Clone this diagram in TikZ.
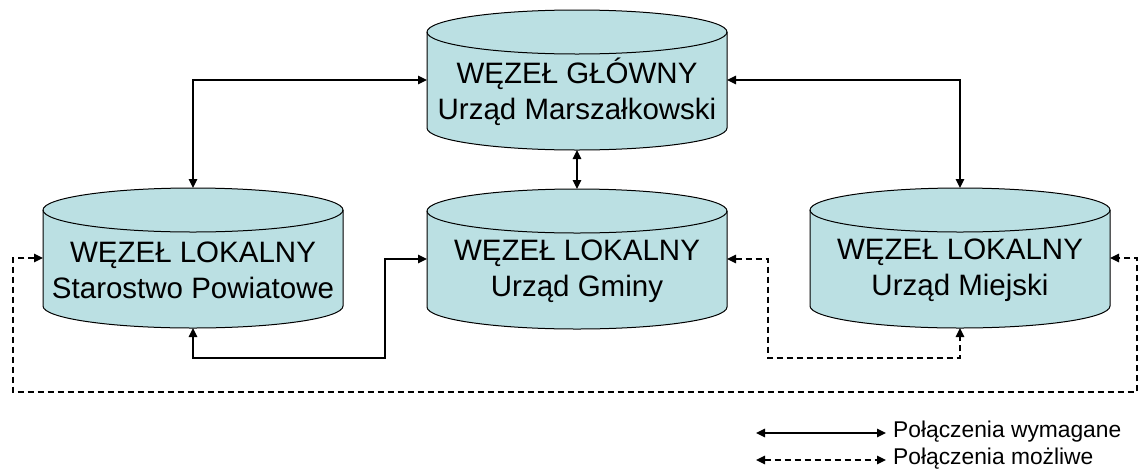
\documentclass[tikz,border=0pt]{standalone}
\usepackage{fontspec}
\setmainfont{Liberation Sans}
\usetikzlibrary{arrows.meta,backgrounds}
\definecolor{cylfill}{HTML}{BBE0E3}
\tikzset{
  cylbox/.style={minimum width=300pt,minimum height=140pt,inner sep=0pt,outer sep=0pt},
  cyltext/.style={align=center,font=\fontsize{29.5}{36}\selectfont,inner sep=0pt},
  conn/.style={line width=1.4pt,{Triangle[length=9pt,width=8.5pt]}-{Triangle[length=9pt,width=8.5pt]}},
  dconn/.style={conn,dash pattern=on 6pt off 4pt},
  legtext/.style={font=\fontsize{22.8}{26}\selectfont,anchor=west,inner sep=0pt},
}
\begin{document}
\begin{tikzpicture}[x=1pt,y=1pt]
\useasboundingbox (0,0) rectangle (1140,-472);
% cylinder frames
\node[cylbox] (main) at (577,-80) {};
\node[cylbox] (lft) at (193,-258) {};
\node[cylbox] (mid) at (577,-259) {};
\node[cylbox] (rgt) at (960,-258) {};
\begin{scope}[on background layer]
\foreach \n in {main,lft,mid,rgt}{
  \filldraw[fill=cylfill,draw=black,line width=1pt]
    ([yshift=-22pt]\n.north west) -- ([yshift=22pt]\n.south west)
    arc[start angle=180,end angle=360,x radius=150,y radius=22]
    -- ([yshift=-22pt]\n.north east)
    arc[start angle=0,end angle=180,x radius=150,y radius=22] -- cycle;
  \draw[line width=1pt] ([yshift=-22pt]\n.north west)
    arc[start angle=180,end angle=360,x radius=150,y radius=22];
}
\end{scope}
% texts
\node[cyltext] (mainT) at ([yshift=-12pt]main.center) {WĘZEŁ GŁÓWNY\\Urząd Marszałkowski};
\node[cyltext] (lftT) at ([yshift=-12pt]lft.center) {WĘZEŁ LOKALNY\\Starostwo Powiatowe};
\node[cyltext] (midT) at ([yshift=-12pt]mid.center) {WĘZEŁ LOKALNY\\Urząd Gminy};
\node[cyltext] (rgtT) at ([yshift=-12pt]rgt.center) {WĘZEŁ LOKALNY\\Urząd Miejski};
% bend points
\coordinate (c1) at (385,-358);
\coordinate (c2) at (768,-358);
\coordinate (c3) at (13,-392);
\coordinate (c4) at (1137,-392);
% connectors
\draw[conn] (main.west) -| (lft.north);
\draw[conn] (main.east) -| (rgt.north);
\draw[conn] (main.south) -- (mid.north);
\draw[conn] (lft.south) |- (c1) |- (mid.west);
\draw[dconn] (mid.east) -| (c2) -| (rgt.south);
\draw[dconn] (lft.west) -| (c3) -- (c4) |- (rgt.east);
% legend
\coordinate (l1a) at (756,-433);
\coordinate (l1b) at (886,-433);
\coordinate (l2a) at (756,-460);
\coordinate (l2b) at (886,-460);
\draw[conn] (l1a) -- (l1b);
\draw[dconn] (l2a) -- (l2b);
\node[legtext] (leg1) at (893,-432) {Połączenia wymagane};
\node[legtext] (leg2) at (893,-459) {Połączenia możliwe};
\end{tikzpicture}
\end{document}
